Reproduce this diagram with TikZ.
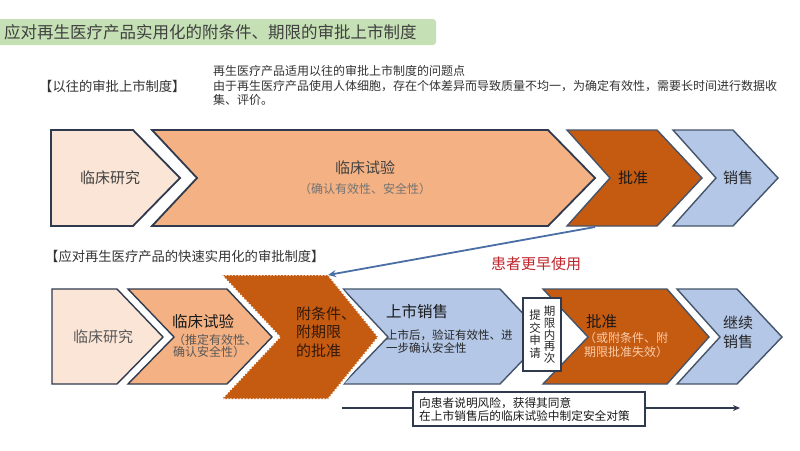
\documentclass[tikz,border=0pt]{standalone}
\usepackage{fontspec}
\setmainfont{Noto Sans CJK SC}
\usetikzlibrary{arrows.meta}
\definecolor{peach}{HTML}{FBE5D6}
\definecolor{salmon}{HTML}{F4B183}
\definecolor{rust}{HTML}{C55A11}
\definecolor{lblue}{HTML}{B4C7E7}
\definecolor{navy}{HTML}{2F3A4F}
\definecolor{slate}{HTML}{44546A}
\definecolor{tgreen}{HTML}{C5E0B4}
\definecolor{arrblue}{HTML}{4A6FA5}
\definecolor{darkred}{HTML}{C0262D}
\definecolor{txt}{HTML}{333333}
\begin{document}
\begin{tikzpicture}[x=1pt,y=-1pt,
  lbl/.style={inner sep=0pt, text=txt},
  chevnavy/.style={draw=navy, line width=1.8pt, line join=miter},
  chevthin/.style={draw=navy, line width=1.4pt, line join=miter},
  chevslate/.style={draw=slate, line width=1.4pt, line join=miter},
  fbig/.style={font=\fontsize{15pt}{18pt}\selectfont},
  fsmall/.style={font=\fontsize{12pt}{14pt}\selectfont}
]
\useasboundingbox (0,0) rectangle (800,450);
\fill[white] (0,0) rectangle (800,450);

% title
\fill[tgreen, rounded corners=3pt] (-3,19) rectangle (436,45);
\node[lbl, anchor=west, text=black!75, font=\fontsize{16.5pt}{19pt}\selectfont] (title) at (4,32) {应对再生医疗产品实用化的附条件、期限的审批上市制度};

% header 1
\node[lbl, anchor=west, font=\fontsize{13.3pt}{16pt}\selectfont] (h1) at (39,86) {【以往的审批上市制度】};
\node[lbl, anchor=west, font=\fontsize{12pt}{14pt}\selectfont] (p1) at (213,71) {再生医疗产品适用以往的审批上市制度的问题点};
\node[lbl, anchor=west, align=left, font=\fontsize{12pt}{14pt}\selectfont] (p2) at (213,93) {由于再生医疗产品使用人体细胞，存在个体差异而导致质量不均一，为确定有效性，需要长时间进行数据收\\集、评价。};

% row 1 chevrons
\filldraw[fill=peach, chevnavy] (51,130) -- (133,130) -- (180,178) -- (133,226) -- (51,226) -- cycle;
\filldraw[fill=salmon, chevnavy] (152,130) -- (548,130) -- (595,178) -- (548,226) -- (152,226) -- (197,178) -- cycle;
\filldraw[fill=rust, chevslate] (567,130) -- (657,130) -- (702,178) -- (657,226) -- (567,226) -- (610,178) -- cycle;
\filldraw[fill=lblue, chevslate] (673,130) -- (733,130) -- (778,178) -- (733,226) -- (673,226) -- (716,178) -- cycle;

\node[lbl, fbig, text=black!75] (a1) at (110,178) {临床研究};
\node[lbl, fbig, text=black!75] (a2) at (365,168) {临床试验};
\node[lbl, fsmall, text=black!55] (a2s) at (365,189) {（确认有效性、安全性）};
\node[lbl, fbig, text=black!90] (a3) at (633,178) {批准};
\node[lbl, fbig, text=black!85] (a4) at (738,178) {销售};

% header 2
\node[lbl, anchor=west, font=\fontsize{13.3pt}{16pt}\selectfont] (h2) at (45,256) {【应对再生医疗产品的快速实用化的审批制度】};
\node[lbl, text=darkred, fbig] (patient) at (536,264) {患者更早使用};

% row 2 chevrons
\filldraw[fill=peach, chevthin] (52,289) -- (117,289) -- (163,337) -- (117,384) -- (52,384) -- cycle;
\filldraw[fill=salmon, chevthin] (128,289) -- (227,289) -- (272,337) -- (227,384) -- (128,384) -- (174,337) -- cycle;
\filldraw[fill=lblue, chevslate] (343,289) -- (500,289) -- (545,337) -- (500,384) -- (343,384) -- (388,337) -- cycle;
\filldraw[fill=rust, chevslate] (543,289) -- (667,289) -- (709,337) -- (667,384) -- (543,384) -- (588,337) -- cycle;
\filldraw[fill=lblue, chevslate] (677,289) -- (737,289) -- (782,337) -- (737,384) -- (677,384) -- (720,337) -- cycle;
% dashed (conditional) chevron
\draw[white, line width=5pt, line join=miter] (222,275) -- (328,275) -- (378,337) -- (328,399) -- (222,399) -- (280,337) -- cycle;
\fill[rust] (222,275) -- (328,275) -- (378,337) -- (328,399) -- (222,399) -- (280,337) -- cycle;
\draw[white, line width=1.4pt, dash pattern=on 1.6pt off 1.6pt] (222,275) -- (328,275) -- (378,337) -- (328,399) -- (222,399) -- (280,337) -- cycle;

\node[lbl, text=black!65, fbig] (b1) at (103,337) {临床研究};
\node[lbl, text=black!90, font=\fontsize{15.5pt}{18pt}\selectfont] (b2) at (203,322) {临床试验};
\node[lbl, anchor=west, align=left, text=black!65, font=\fontsize{12pt}{12.5pt}\selectfont] (b2s) at (173,346) {（推定有效性、\\确认安全性）};
\node[lbl, anchor=west, align=left, text={rgb,255:red,50;green,25;blue,10}, font=\fontsize{15pt}{18.5pt}\selectfont] (b3) at (296,332) {附条件、\\附期限\\的批准};
\node[lbl, anchor=west, text=black!90, font=\fontsize{15.5pt}{18pt}\selectfont] (b4) at (386,312) {上市销售};
\node[lbl, anchor=west, align=left, text=black!85, font=\fontsize{11.5pt}{13pt}\selectfont] (b4s) at (386,341.5) {上市后，验证有效性、进\\一步确认安全性};
\node[lbl, anchor=west, text=black!90, font=\fontsize{15.5pt}{18pt}\selectfont] (b5) at (586,322) {批准};
\node[lbl, anchor=west, align=left, text={rgb,255:red,250;green,205;blue,170}, font=\fontsize{12pt}{14pt}\selectfont] (b5s) at (584,345) {（或附条件、附\\期限批准失效）};
\node[lbl, align=center, text=black!85, font=\fontsize{15pt}{19pt}\selectfont] (b6) at (738,332.5) {继续\\销售};

% resubmission box
\node[draw=navy, line width=1.4pt, fill=white, minimum width=38pt, minimum height=73pt, inner sep=0pt] (resub) at (542,334.5) {};
\node[lbl, align=center, text=black!85, font=\fontsize{11.5pt}{11.7pt}\selectfont] (resubR) at (549.5,335) {期\\限\\内\\再\\次};
\node[lbl, align=center, text=black!85, font=\fontsize{11.5pt}{12.5pt}\selectfont] (resubL) at (535,334) {提\\交\\申\\请};

% blue arrow
\coordinate (arrS) at (595,227);
\coordinate (arrE) at (328,275);
\draw[arrblue, line width=1.8pt, -{Stealth[length=8pt,width=7pt]}] (arrS) -- (arrE);

% bottom timeline
\coordinate (lineS) at (342,408);
\coordinate (lineE) at (740,408);
\draw[navy, line width=1.8pt, -{Stealth[length=7pt,width=6pt]}] (lineS) -- (lineE);
\node[draw=navy, line width=1.4pt, fill=white, minimum width=232pt, minimum height=34pt, inner sep=0pt] (note) at (529,409) {};
\node[lbl, anchor=west, align=left, text=black!90, font=\fontsize{11.7pt}{13pt}\selectfont] (notet) at (419,409.5) {向患者说明风险，获得其同意\\在上市销售后的临床试验中制定安全对策};
\end{tikzpicture}
\end{document}
